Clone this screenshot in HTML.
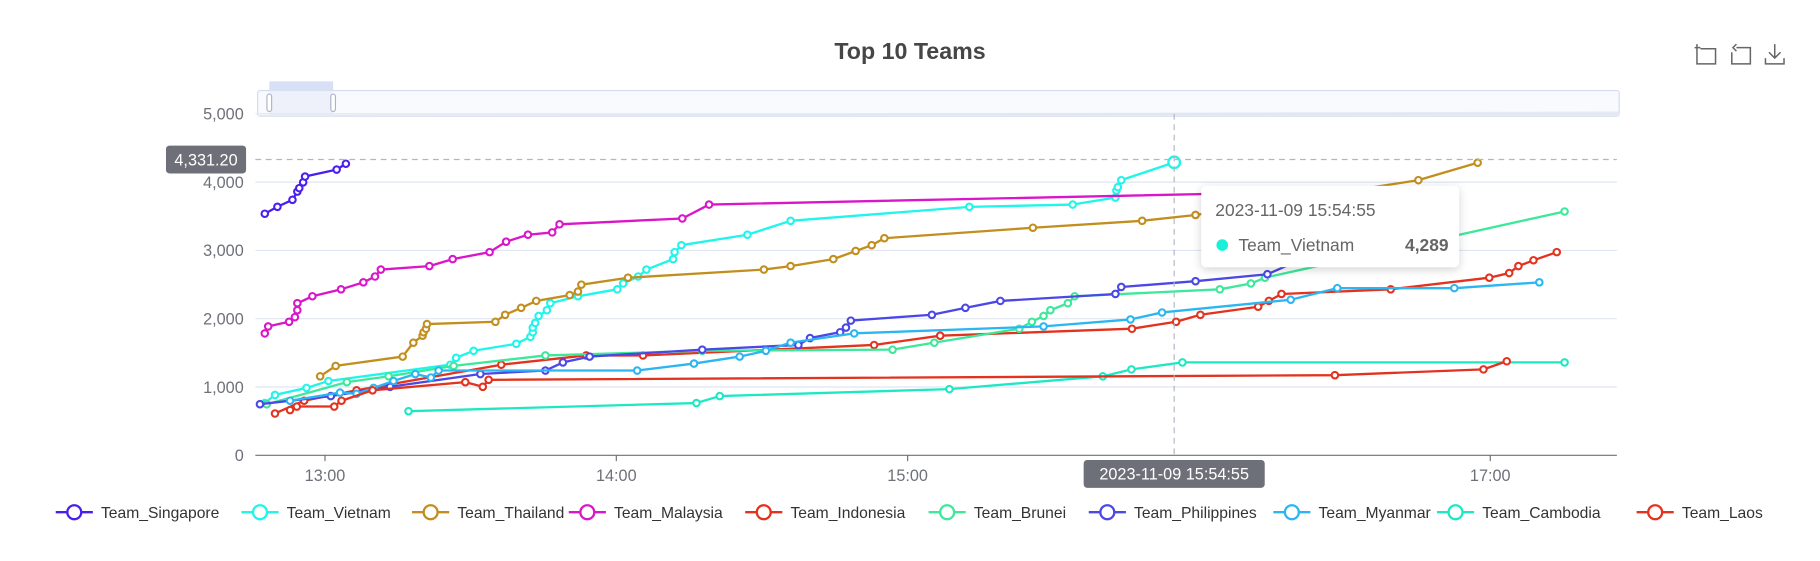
<!DOCTYPE html>
<html><head><meta charset="utf-8"><style>
html,body{margin:0;padding:0;background:#fff;}
svg{display:block;font-family:"Liberation Sans",sans-serif;}
</style></head><body>
<svg id="chart" width="1820" height="561" viewBox="0 0 1568 483" preserveAspectRatio="none" xmlns="http://www.w3.org/2000/svg">
<defs><filter id="sh" x="-20%" y="-20%" width="140%" height="150%"><feDropShadow dx="0" dy="2" stdDeviation="4" flood-color="#000" flood-opacity="0.18"/></filter></defs>
<text x="784" y="51" text-anchor="middle" font-size="20" font-weight="bold" fill="#464646">Top 10 Teams</text>
<g fill="none" stroke="#666" stroke-width="1.3">
<g><path d="M1462 38v17h16v-13h-13M1460 41h5"/></g>
<g><path d="M1496 41h12v14h-16v-10M1496 38l-3 3 3 3"/></g>
<g><path d="M1529 38v12M1524 45l5 5 5-5M1521 50v5h16v-5"/></g>
</g>
<g>
<rect x="222" y="78" width="1173" height="22" rx="2" fill="#f9fafd" stroke="#d2dbee"/>
<path d="M222 99 L1395 96 L1395 100 L222 100Z" fill="#e4e9f4"/>
<rect x="232" y="78" width="55" height="22" fill="#e6ebf7" opacity="0.6"/>
<rect x="232" y="70" width="55" height="8" fill="#d7e0f5"/>
<rect x="230" y="81" width="4" height="15" rx="2" fill="#fff" stroke="#aab4cc"/>
<rect x="285" y="81" width="4" height="15" rx="2" fill="#fff" stroke="#aab4cc"/>
</g>
<g id="grid"></g><g id="axes"></g><g id="series"></g><g id="cross"></g>
<g>
<rect x="1035" y="160" width="222" height="70" rx="4" fill="#fff" filter="url(#sh)"/>
<text x="1047" y="186" font-size="15" fill="#666">2023-11-09 15:54:55</text>
<circle cx="1053" cy="211" r="5" fill="#19f0d8"/>
<text x="1067" y="216" font-size="15" fill="#666">Team_Vietnam</text>
<text x="1248" y="216" font-size="15" font-weight="bold" fill="#666" text-anchor="end">4,289</text>
</g>
<g id="legend"></g>
</svg>
<script>
const names=["Team_Singapore","Team_Vietnam","Team_Thailand","Team_Malaysia","Team_Indonesia","Team_Brunei","Team_Philippines","Team_Myanmar","Team_Cambodia","Team_Laos"];
const colors=["#4a1fee","#1ff5ea","#c28f1e","#d916c8","#e3321e","#3de89a","#4b48e6","#2bb6f2","#1ee8c4","#e3321e"];
// minutes after 12:00
const singaporeT=[47.6,50.2,53.3,54.3,54.7,55.5,55.9,62.4,64.3];
const singaporeV=[3537,3639,3741,3861,3912,3997,4082,4184,4269];
const vietnamT=[47.6,49.7,56.2,60.7,85.8,87.0,90.6,99.4,102.3,102.8,102.8,103.3,104.0,105.7,106.4,112.1,120.2,121.4,124.5,126.2,131.7,132.0,133.4,147.0,155.9,192.7,214.0,222.8,223.0,223.3,224.0,234.9];
const vietnamV=[765,884,986,1088,1326,1428,1530,1632,1734,1802,1870,1938,2040,2125,2227,2329,2431,2516,2618,2720,2873,2975,3077,3230,3434,3638,3672,3774,3876,3927,4029,4289];
const thailandT=[59.0,62.2,76.0,78.2,80.1,80.3,80.8,81.0,95.1,97.1,100.4,103.5,110.4,112.1,112.8,122.4,150.4,155.9,164.7,169.3,172.6,175.2,205.8,228.3,239.3,285.2,297.4];
const thailandV=[1156,1309,1445,1649,1751,1802,1853,1921,1955,2057,2159,2261,2346,2397,2499,2601,2720,2771,2873,2992,3077,3179,3332,3434,3519,4029,4284];
const malaysiaT=[47.6,48.3,52.6,53.8,54.3,54.3,57.4,63.3,67.9,70.3,71.5,81.5,86.3,93.9,97.3,101.8,106.8,108.3,133.6,139.1,263.2];
const malaysiaV=[1785,1887,1955,2023,2125,2227,2329,2431,2533,2618,2720,2771,2873,2975,3128,3230,3264,3383,3468,3672,3859];
const indonesiaT=[49.7,55.7,66.5,96.3,113.8,125.5,173.1,186.7,226.2,235.3,240.3,252.2,254.4,257.0,279.5,299.8,303.9,305.8,308.9,313.7];
const indonesiaV=[612,799,952,1326,1462,1462,1615,1751,1853,1955,2057,2176,2261,2363,2431,2601,2669,2771,2856,2975];
const bruneiT=[48.0,64.5,73.1,86.5,105.4,137.7,176.9,185.5,203.0,205.6,208.0,209.4,213.0,214.4,244.3,250.7,253.6,315.3];
const bruneiV=[748,1071,1156,1309,1462,1530,1547,1649,1853,1955,2040,2125,2227,2329,2431,2516,2601,3570];
const philippinesT=[46.6,61.2,73.4,92.0,105.4,109.0,114.5,137.7,157.5,159.9,166.1,167.3,168.3,185.0,191.9,199.1,222.8,224.0,239.3,254.1,259.6];
const philippinesV=[748,867,1003,1190,1241,1360,1445,1547,1615,1717,1802,1870,1972,2057,2159,2261,2363,2465,2550,2652,2822];
const myanmarT=[52.8,63.1,66.5,70.0,74.1,78.6,81.8,83.4,124.3,136.0,145.4,150.8,155.9,169.0,208.0,225.9,232.4,258.9,268.5,292.6,310.1];
const myanmarV=[799,918,901,986,1088,1190,1139,1241,1241,1343,1445,1530,1649,1785,1887,1989,2091,2278,2448,2448,2533];
const cambodiaT=[77.2,136.5,141.3,188.6,220.2,226.1,236.6,315.3];
const cambodiaV=[646,765,867,969,1156,1258,1360,1360];
const laosT=[52.8,54.2,61.9,63.4,69.8,88.9,92.5,93.7,268.0,298.6,303.4];
const laosV=[663,714,714,799,952,1071,1003,1105,1173,1258,1377];
const seriesT=[singaporeT,vietnamT,thailandT,malaysiaT,indonesiaT,bruneiT,philippinesT,myanmarT,cambodiaT,laosT];
const seriesV=[singaporeV,vietnamV,thailandV,malaysiaV,indonesiaV,bruneiV,philippinesV,myanmarV,cambodiaV,laosV];
const yTicks=[0,1000,2000,3000,4000,5000];
const xTicks=[60,120,180,300];
const xTickLabels=["13:00","14:00","15:00","17:00"];
const crossT=234.9, crossV=4331.2;

const NS="http://www.w3.org/2000/svg";
const L=220,R=1393,T=98,B=392;
const x=m=>280+(m-60)*4.183;
const y=v=>B-(v/5000)*(B-T);
function mk(tag,attrs,parent){const e=document.createElementNS(NS,tag);for(const k in attrs)e.setAttribute(k,attrs[k]);parent.appendChild(e);return e;}
const grid=document.getElementById('grid'),axes=document.getElementById('axes'),ser=document.getElementById('series'),cross=document.getElementById('cross'),leg=document.getElementById('legend');
yTicks.forEach(v=>{
  const g=mk('line',{x1:L,x2:R,y1:y(v),y2:y(v),stroke:v===0?'#6e7079':'#e0e6f1','stroke-width':1},grid);
  
  
  const t=mk('text',{x:210,y:y(v)+5,'text-anchor':'end','font-size':14,fill:'#6e7079'},axes);
  t.textContent=v.toLocaleString('en-US');
  
  
});
xTicks.forEach((m,i)=>{
  const tk=mk('line',{x1:x(m),x2:x(m),y1:B,y2:B+5,stroke:'#6e7079'},axes);
  
  
  const t=mk('text',{x:x(m),y:B+22,'text-anchor':'middle','font-size':14,fill:'#6e7079'},axes);
  t.textContent=xTickLabels[i];
  
  
});
seriesT.forEach((ts,si)=>{
  const g=mk('g',{},ser);
  
  
  const pts=ts.map((t,i)=>x(t).toFixed(1)+','+y(seriesV[si][i]).toFixed(1)).join(' ');
  mk('polyline',{points:pts,fill:'none',stroke:colors[si],'stroke-width':2,'stroke-linejoin':'round'},g);
  ts.forEach((t,i)=>{
    const last=si===1&&i===ts.length-1;
    const c=mk('circle',{cx:x(t),cy:y(seriesV[si][i]),r:last?5:2.8,fill:'#fff',stroke:colors[si],'stroke-width':last?2:1.8},g);
    
    
  });
});
const vx=x(crossT), hy=y(crossV);
const vl=mk('line',{x1:vx,x2:vx,y1:T,y2:B,stroke:'#b0b6c3','stroke-dasharray':'5,4'},cross);


const hl=mk('line',{x1:L,x2:R,y1:hy,y2:hy,stroke:'#b0b6c3','stroke-dasharray':'5,4'},cross);


const yb=mk('rect',{x:143,y:hy-12,width:69,height:24,rx:3,fill:'#6e7079'},cross);


const yt=mk('text',{x:177.5,y:hy+5,'text-anchor':'middle','font-size':14,fill:'#fff'},cross);
yt.textContent=crossV.toLocaleString('en-US',{minimumFractionDigits:2});
const xb=mk('rect',{x:vx-78,y:396,width:156,height:24,rx:3,fill:'#6e7079'},cross);


const xt=mk('text',{x:vx,y:413,'text-anchor':'middle','font-size':14,fill:'#fff'},cross);
xt.textContent='2023-11-09 15:54:55';
const legX=[48,208,355,490,642,800,938,1097,1238,1410];
names.forEach((n,i)=>{
  const g=mk('g',{},leg);
  
  
  mk('line',{x1:legX[i],x2:legX[i]+32,y1:441,y2:441,stroke:colors[i],'stroke-width':2},g);
  mk('circle',{cx:legX[i]+16,cy:441,r:6,fill:'#fff',stroke:colors[i],'stroke-width':2},g);
  const t=mk('text',{x:legX[i]+39,y:446,'font-size':13.5,fill:'#333'},g);
  t.textContent=n;
});
</script>
</body></html>
